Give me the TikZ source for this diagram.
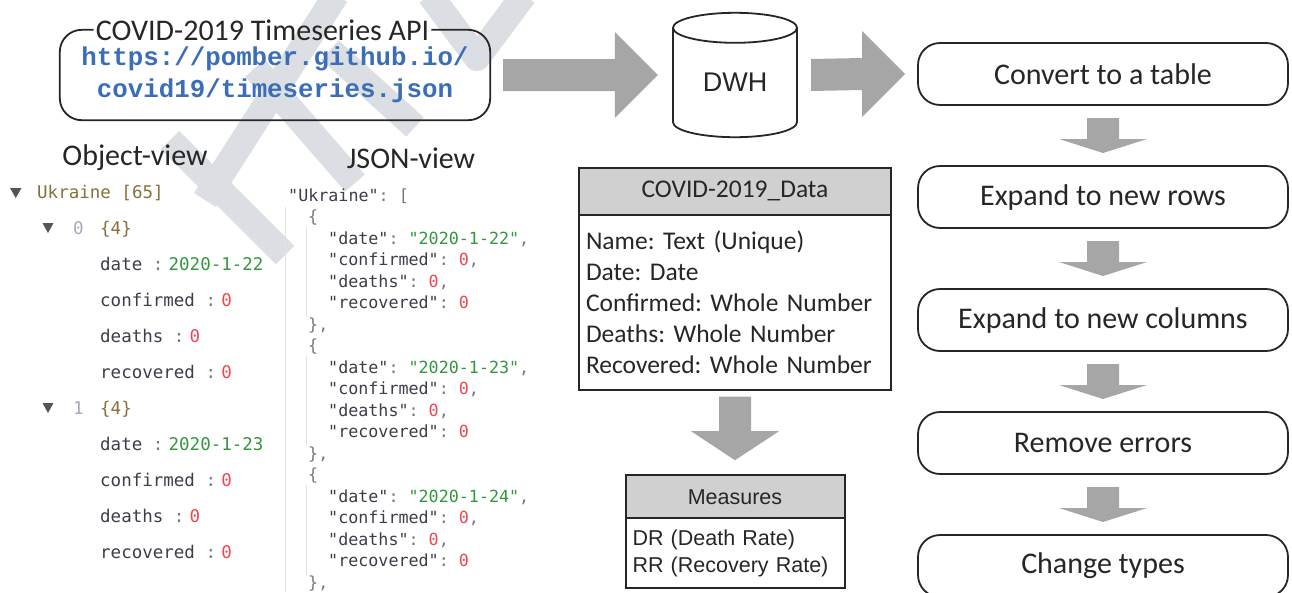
\documentclass[tikz,border=0pt]{standalone}
\usepackage{fontspec}
\setmainfont{Carlito}
\newfontfamily\arialfont{Liberation Sans}
\newfontfamily\monofont{DejaVu Sans Mono}
\newfontfamily\urlfont{Liberation Mono}
\frenchspacing
\usepackage{xcolor}
\definecolor{ink}{RGB}{38,38,38}
\definecolor{arrowgray}{RGB}{166,166,166}
\definecolor{headgray}{RGB}{208,208,208}
\definecolor{watermark}{RGB}{219,222,226}
\definecolor{urlblue}{RGB}{58,110,185}
\definecolor{jkey}{RGB}{62,60,72}
\definecolor{jstr}{RGB}{52,150,62}
\definecolor{jnum}{RGB}{236,72,82}
\definecolor{jpunct}{RGB}{120,120,120}
\definecolor{guide}{RGB}{226,226,226}
\definecolor{obrown}{RGB}{135,112,58}
\definecolor{oindex}{RGB}{172,166,190}
\definecolor{otri}{RGB}{85,85,85}
\usepackage{tikz}
\usetikzlibrary{calc}
\usetikzlibrary{positioning}
\newcommand{\sanstext}{\fontsize{30}{36}\selectfont}
\newcommand{\tabletext}{\fontsize{25.5}{31}\selectfont}
\newcommand{\arialtext}{\arialfont\fontsize{21.5}{27}\selectfont}
\newcommand{\objtext}{\monofont\fontsize{17.5}{21}\selectfont}
\newcommand{\jsontext}{\monofont\fontsize{16.7}{21.5}\selectfont}
\newcommand{\jk}[1]{\textcolor{jkey}{"#1"}}
\newcommand{\js}[1]{\textcolor{jstr}{"#1"}}
\newcommand{\jn}[1]{\textcolor{jnum}{#1}}
\newcommand{\jp}[1]{\textcolor{jpunct}{#1}}
\newcommand{\ofield}[2]{\textcolor{jkey}{#1}\ \textcolor{jpunct}{:}\hspace{0.3em}#2}
\newcommand{\rightblock}[2]{%
  \fill[bigarrow] ($(#1)+(0,-16)$) -- ($(#2)+(-43,-16)$) -- ($(#2)+(-43,-43)$) -- (#2)
    -- ($(#2)+(-43,43)$) -- ($(#2)+(-43,16)$) -- ($(#1)+(0,16)$) -- cycle;}
\newcommand{\downblock}[3]{%
  \fill[bigarrow] ($(#1)+(-16,0)$) -- ($(#2)+(-16,-#3)$) -- ($(#2)+(-44,-#3)$) -- (#2)
    -- ($(#2)+(44,-#3)$) -- ($(#2)+(16,-#3)$) -- ($(#1)+(16,0)$) -- cycle;}
\tikzset{
    outline/.style={draw=ink, line width=1.8pt, text=ink, outer sep=0pt},
    apibox/.style={minimum width=430pt, minimum height=90pt, inner sep=0pt},
    stepbox/.style={outline, rounded corners=22pt, minimum width=370pt, minimum height=62pt, font=\sanstext},
    headbox/.style={outline, line width=2pt, fill=headgray},
    bodybox/.style={outline, line width=2pt, align=left},
    objline/.style={anchor=base west, inner sep=0pt, font=\objtext},
    jsonline/.style={anchor=base west, inner sep=0pt, font=\jsontext},
    viewtitle/.style={font=\sanstext, text=ink},
    guideline/.style={draw=guide, line width=1pt},
    wmstroke/.style={draw=watermark, line width=26pt},
    bigarrow/.style={fill=arrowgray}
}
\begin{document}
\begin{tikzpicture}[x=1pt, y=-1pt]
    \useasboundingbox (0,0) rectangle (1292,592);

    % watermark behind everything
    \draw[wmstroke] (336,-5) -- (205,200) (255,68) -- (355,183) (170,140) -- (285,255)
        (330,50) -- (415,127);
    \draw[wmstroke, line join=round] (430,-5) -- (477,58) -- (524,-5);

    % source
    \node[apibox] (api) at (275,75) {};
    \node[viewtitle, inner xsep=2pt, inner ysep=0pt] (api-title) at ($(api.north)+(-12.5,0)$) {COVID-2019 Timeseries API};
    \draw[outline, rounded corners=22pt] (api-title.east) -| (api.south east) -| (api.north west) -- (api-title.west);
    \node[font=\urlfont\bfseries\fontsize{25.8}{32}\selectfont, text=urlblue, align=center] (api-url) at (api.center)
        {https://pomber.github.io/\\covid19/timeseries.json};

    % object view
    \node[viewtitle] (obj-title) at (135,158) {Object-view};
    \fill[otri] (10,188) -- (21.5,188) -- (15.75,198) -- cycle;
    \node[objline, text=obrown] (obj-root) at (37,198) {Ukraine [65]};
    \foreach \r/\d in {0/22,1/23}{
        \pgfmathsetmacro{\y}{228+180*\r}
        \fill[otri] (42.5,\y-5) -- (53.5,\y-5) -- (48,\y+5) -- cycle;
        \node[objline, text=oindex] (obj-\r-idx) at (73,\y+6) {\r};
        \node[objline, text=obrown] (obj-\r-size) at (100,\y+6) {\{4\}};
        \node[objline] (obj-\r-date) at (100,\y+42) {\ofield{date}{\textcolor{jstr}{2020-1-\d}}};
        \node[objline] (obj-\r-conf) at (100,\y+78) {\ofield{confirmed}{\textcolor{jnum}{0}}};
        \node[objline] (obj-\r-death) at (100,\y+114) {\ofield{deaths}{\textcolor{jnum}{0}}};
        \node[objline] (obj-\r-rec) at (100,\y+150) {\ofield{recovered}{\textcolor{jnum}{0}}};
    }

    % json view
    \node[viewtitle] (json-title) at (411,158) {JSON-view};
    \draw[guideline] (285,207) -- (285,592);
    \node[jsonline] (json-root) at (288,201) {\jk{Ukraine}\jp{: [}};
    \foreach \d [count=\r from 0] in {22,23,24}{
        \pgfmathsetmacro{\y}{216.5+129*\r}
        \draw[guideline] (306,\y+10) -- (306,\y+100);
        \node[jsonline] (json-\r-open) at (308,\y+6) {\jp{\{}};
        \node[jsonline] (json-\r-date) at (328,\y+27.5) {\jk{date}\jp{: }\js{2020-1-\d}\jp{,}};
        \node[jsonline] (json-\r-conf) at (328,\y+49) {\jk{confirmed}\jp{: }\jn{0}\jp{,}};
        \node[jsonline] (json-\r-death) at (328,\y+70.5) {\jk{deaths}\jp{: }\jn{0}\jp{,}};
        \node[jsonline] (json-\r-rec) at (328,\y+92) {\jk{recovered}\jp{: }\jn{0}};
        \node[jsonline] (json-\r-close) at (308,\y+113.5) {\jp{\},}};
    }

    % warehouse
    \node[minimum width=124pt, minimum height=124pt, inner sep=0pt] (dwh) at (735,75) {};
    \draw[outline] ($(dwh.south)+(0,-15)$) ellipse [x radius=62pt, y radius=15pt];
    \fill[white] ($(dwh.north west)+(0,15)$) rectangle ($(dwh.south east)+(0,-15)$);
    \draw[outline] ($(dwh.north west)+(0,15)$) -- ($(dwh.south west)+(0,-15)$)
        ($(dwh.north east)+(0,15)$) -- ($(dwh.south east)+(0,-15)$);
    \draw[outline] ($(dwh.north)+(0,15)$) ellipse [x radius=62pt, y radius=15pt];
    \node[font=\arialfont\fontsize{27}{30}\selectfont, text=ink] (dwh-text) at ($(dwh.center)+(0,7)$) {DWH};

    % tables
    \node[headbox, below=30.5pt of dwh, minimum width=312pt, minimum height=47pt, font=\tabletext] (data-head) {COVID-2019\_Data};
    \node[bodybox, below=0pt of data-head, text width=298pt, inner xsep=7pt, minimum height=175pt, font=\tabletext] (data-body)
        {Name: Text (Unique)\\Date: Date\\Confirmed: Whole Number\\Deaths: Whole Number\\Recovered: Whole Number};
    \node[headbox, below=85.5pt of data-body, minimum width=219pt, minimum height=43pt, font=\arialtext] (meas-head) {Measures};
    \node[bodybox, below=0pt of meas-head, text width=205pt, inner xsep=7pt, minimum height=70pt, font=\arialtext] (meas-body)
        {DR (Death Rate)\\RR (Recovery Rate)};

    % steps
    \node[stepbox] (s1) at (1103,74) {Convert to a table};
    \node[stepbox, below=61pt of s1] (s2) {Expand to new rows};
    \node[stepbox, below=61pt of s2] (s3) {Expand to new columns};
    \node[stepbox, below=61pt of s3] (s4) {Remove errors};
    \node[stepbox, below=61pt of s4] (s5) {Change types};

    % block arrows
    \coordinate (api-out) at ($(api.east)+(13,0)$);
    \coordinate (dwh-in) at ($(dwh.west)+(-15,0)$);
    \rightblock{api-out}{dwh-in}
    \coordinate (dwh-out) at ($(dwh.east)+(14,0)$);
    \coordinate (s1-in) at ($(s1.west)+(-13,0)$);
    \rightblock{dwh-out}{s1-in}
    \coordinate (data-out) at ($(data-body.south)+(0,7)$);
    \coordinate (meas-in) at ($(meas-head.north)+(0,-15)$);
    \downblock{data-out}{meas-in}{29}
    \foreach \a/\b in {s1/s2, s2/s3, s3/s4, s4/s5}{
        \coordinate (\a-out) at ($(\a.south)+(0,13)$);
        \coordinate (\b-top) at ($(\b.north)+(0,-13)$);
        \downblock{\a-out}{\b-top}{14}
    }
\end{tikzpicture}
\end{document}
